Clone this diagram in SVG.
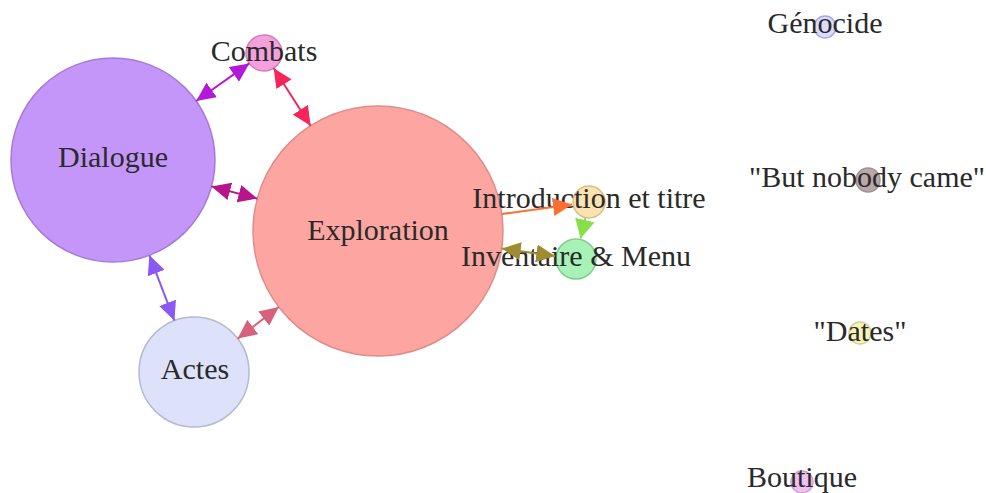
<svg xmlns="http://www.w3.org/2000/svg" width="986" height="493" viewBox="0 0 986 493">
<style>
.lbl{font-family:"Liberation Serif","Times New Roman",serif;font-size:30px;fill:#2a2a2a;text-anchor:middle}
.node{stroke-width:1.5}
.edge{fill:none;stroke-width:2}
</style>
<defs>
<marker id="m1" markerUnits="userSpaceOnUse" markerWidth="20" markerHeight="18" refX="19" refY="9" orient="auto-start-reverse"><path d="M0,0 L19,9 L0,18 z" fill="#b418d8"/></marker>
<marker id="m2" markerUnits="userSpaceOnUse" markerWidth="20" markerHeight="18" refX="19" refY="9" orient="auto-start-reverse"><path d="M0,0 L19,9 L0,18 z" fill="#f8245c"/></marker>
<marker id="m3" markerUnits="userSpaceOnUse" markerWidth="20" markerHeight="18" refX="19" refY="9" orient="auto-start-reverse"><path d="M0,0 L19,9 L0,18 z" fill="#b8148c"/></marker>
<marker id="m4" markerUnits="userSpaceOnUse" markerWidth="20" markerHeight="18" refX="19" refY="9" orient="auto-start-reverse"><path d="M0,0 L19,9 L0,18 z" fill="#8c58f4"/></marker>
<marker id="m5" markerUnits="userSpaceOnUse" markerWidth="20" markerHeight="18" refX="19" refY="9" orient="auto-start-reverse"><path d="M0,0 L19,9 L0,18 z" fill="#d8607c"/></marker>
<marker id="m6" markerUnits="userSpaceOnUse" markerWidth="20" markerHeight="18" refX="19" refY="9" orient="auto-start-reverse"><path d="M0,0 L19,9 L0,18 z" fill="#ff7030"/></marker>
<marker id="m7" markerUnits="userSpaceOnUse" markerWidth="20" markerHeight="20" refX="19" refY="10" orient="auto-start-reverse"><path d="M0,0 L19,10 L0,20 z" fill="#88e048"/></marker>
<marker id="m8" markerUnits="userSpaceOnUse" markerWidth="20" markerHeight="18" refX="19" refY="9" orient="auto-start-reverse"><path d="M0,0 L19,9 L0,18 z" fill="#a08c30"/></marker>
</defs>
<rect width="986" height="493" fill="#ffffff"/>
<g id="node-exploration"><circle class="node" cx="378" cy="231" r="125" fill="#fda6a1" stroke="#e08c8a"/><text class="lbl" x="378" y="240">Exploration</text></g>
<g id="node-dialogue"><circle class="node" cx="113" cy="160" r="102" fill="#c596fa" stroke="#a67ad8"/><text class="lbl" x="113" y="167">Dialogue</text></g>
<g id="node-combats"><circle class="node" cx="264" cy="53" r="18" fill="#f4a0dc" stroke="#d080b8"/><text class="lbl" x="264" y="61">Combats</text></g>
<g id="node-actes"><circle class="node" cx="194" cy="372" r="55" fill="#dde2fa" stroke="#b4bad0"/><text class="lbl" x="195" y="379">Actes</text></g>
<g id="node-introduction"><circle class="node" cx="589" cy="202" r="16" fill="#fbe3b0" stroke="#d8bc88"/><text class="lbl" x="589" y="208">Introduction et titre</text></g>
<g id="node-inventaire"><circle class="node" cx="576" cy="259" r="20" fill="#a8f2b8" stroke="#80cc92"/><text class="lbl" x="576" y="266">Inventaire &amp; Menu</text></g>
<g id="node-genocide"><circle class="node" cx="825" cy="27" r="11" fill="#dcdcfa" stroke="#a8a8e4"/><text class="lbl" x="825" y="33">Génocide</text></g>
<g id="node-nobody"><circle class="node" cx="868" cy="180" r="12" fill="#b8a8a8" stroke="#a09090"/><text class="lbl" x="867" y="187">"But nobody came"</text></g>
<g id="node-dates"><circle class="node" cx="860" cy="333" r="11" fill="#f8f4b8" stroke="#d8d090"/><text class="lbl" x="860" y="341">"Dates"</text></g>
<g id="node-boutique"><circle class="node" cx="802" cy="482" r="11" fill="#f0c0f0" stroke="#d0a0d0"/><text class="lbl" x="802" y="487">Boutique</text></g>
<g id="connectors">
<line class="edge" x1="196.2" y1="101" x2="249.3" y2="63.4" stroke="#b418d8" marker-start="url(#m1)" marker-end="url(#m1)"/>
<line class="edge" x1="273.7" y1="68.2" x2="310.6" y2="125.7" stroke="#f8245c" marker-start="url(#m2)" marker-end="url(#m2)"/>
<line class="edge" x1="211.5" y1="186.4" x2="257.3" y2="198.6" stroke="#b8148c" marker-start="url(#m3)" marker-end="url(#m3)"/>
<line class="edge" x1="149.4" y1="255.3" x2="174.4" y2="320.6" stroke="#8c58f4" marker-start="url(#m4)" marker-end="url(#m4)"/>
<line class="edge" x1="237.7" y1="338.6" x2="278.8" y2="307" stroke="#d8607c" marker-start="url(#m5)" marker-end="url(#m5)"/>
<line class="edge" x1="501.8" y1="214" x2="572" y2="204.4" stroke="#ff7030" stroke-width="1.5" marker-end="url(#m6)"/>
<line class="edge" x1="585.4" y1="217.6" x2="580.6" y2="238.5" stroke="#88e048" marker-end="url(#m7)"/>
<line class="edge" x1="501.7" y1="248.5" x2="555.2" y2="256.1" stroke="#a08c30" marker-start="url(#m8)" marker-end="url(#m8)"/>
</g>
</svg>
